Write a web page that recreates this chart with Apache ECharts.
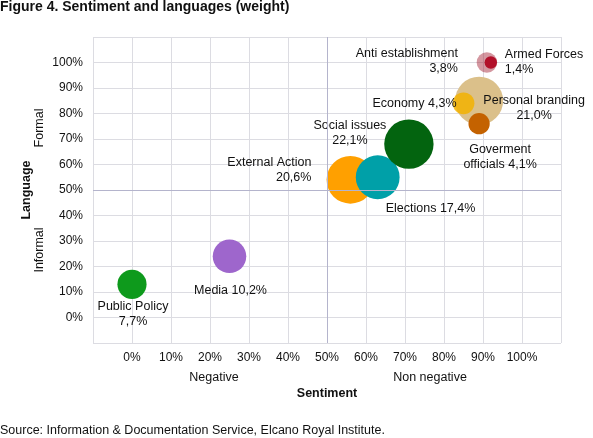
<!DOCTYPE html>
<html>
<head>
<meta charset="utf-8">
<script src="https://cdn.jsdelivr.net/npm/echarts@6/dist/echarts.min.js"></script>
<style>
html,body{margin:0;padding:0;background:#fff;}
#chart{width:593px;height:438px;}
</style>
</head>
<body>
<div id="chart"></div>
<script>
// ---- data ----
const categories = ['Public Policy', 'Media', 'External Action', 'Elections', 'Social issues',
  'Personal branding', 'Economy', 'Goverment\nofficials', 'Anti establishment', 'Armed Forces'];
const sentiment = [0, 25, 56, 63, 71, 89, 85, 89, 91, 92];   // % (x)
const language  = [13, 24, 54, 55, 68, 85, 84, 76, 100, 100]; // % (y)
const weight    = [7.7, 10.2, 20.6, 17.4, 22.1, 21.0, 4.3, 4.1, 3.8, 1.4]; // % (bubble size)
const xTicks = [0, 10, 20, 30, 40, 50, 60, 70, 80, 90, 100];
const yTicks = [0, 10, 20, 30, 40, 50, 60, 70, 80, 90, 100];

// ---- styles / layout ----
const colors = ['#0e9a1c', '#9e66cc', '#ffa000', '#00a0a8', '#03640f',
  '#dbc08a', 'rgba(242,177,0,0.85)', '#c46200', 'rgba(160,24,45,0.45)', '#b2102a'];
// label: [separator, align, dx, dy] relative to bubble centre
const labelLayout = [
  ['\n', 'center', 1, 30],
  [' ', 'center', 1, 34],
  ['\n', 'right', -39, -10],
  [' ', 'left', 8, 31],
  ['\n', 'center', -59, -11],
  ['\n', 'center', 55, 7],
  [' ', 'right', -7, 0],
  [' ', 'center', 21, 33],
  ['\n', 'right', -29, -1],
  ['\n', 'left', 14, 0]
];

const FONT = '"Liberation Sans", Arial, sans-serif';
const FS = 12.5;
const fmtPct = v => v.toFixed(1).replace('.', ',') + '%';

const seriesData = categories.map((c, i) => ({
  name: c,
  value: [sentiment[i], language[i], weight[i]],
  itemStyle: { color: colors[i], opacity: 1 },
  label: {
    show: true,
    position: ['50%', '50%'],
    align: labelLayout[i][1],
    verticalAlign: 'middle',
    offset: [labelLayout[i][2], labelLayout[i][3]],
    formatter: c + labelLayout[i][0] + fmtPct(weight[i]),
    fontFamily: FONT,
    fontSize: FS,
    lineHeight: 15,
    color: '#111'
  }
}));

const chart = echarts.init(document.getElementById('chart'), null, { renderer: 'canvas' });
chart.setOption({
  animation: false,
  backgroundColor: '#fff',
  textStyle: { fontFamily: FONT },
  title: [
    { text: 'Figure 4. Sentiment and languages (weight)', left: 0, top: 0, padding: 0,
      textStyle: { fontFamily: FONT, fontSize: 14, fontWeight: 'bold', color: '#111' } },
    { text: 'Source: Information & Documentation Service, Elcano Royal Institute.', left: 0, top: 424, padding: 0,
      textStyle: { fontFamily: FONT, fontSize: FS, fontWeight: 'normal', color: '#111' } }
  ],
  grid: { left: 93, top: 37, right: 32, bottom: 95 },
  xAxis: {
    type: 'value', min: -10, max: 110, interval: 10,
    name: 'Sentiment', nameLocation: 'middle', nameGap: 44,
    nameTextStyle: { fontFamily: FONT, fontSize: FS, fontWeight: 'bold', color: '#111' },
    axisLine: { show: false }, axisTick: { show: false },
    axisLabel: { margin: 9, fontFamily: FONT, fontSize: 12, color: '#111',
      formatter: v => xTicks.includes(v) ? v + '%' : '' },
    splitLine: { show: true, lineStyle: { color: '#dcdce2', width: 1 } }
  },
  yAxis: {
    type: 'value', min: -10, max: 110, interval: 10,
    name: 'Language', nameLocation: 'middle', nameGap: 60,
    nameTextStyle: { fontFamily: FONT, fontSize: FS, fontWeight: 'bold', color: '#111' },
    axisLine: { show: false }, axisTick: { show: false },
    axisLabel: { margin: 10, fontFamily: FONT, fontSize: 12, color: '#111',
      formatter: v => yTicks.includes(v) ? v + '%' : '' },
    splitLine: { show: true, lineStyle: { color: '#dcdce2', width: 1 } }
  },
  graphic: [
    { type: 'text', x: 214, y: 378, style: { text: 'Negative', font: FS + 'px ' + FONT, fill: '#111', align: 'center', verticalAlign: 'middle' } },
    { type: 'text', x: 430, y: 378, style: { text: 'Non negative', font: FS + 'px ' + FONT, fill: '#111', align: 'center', verticalAlign: 'middle' } },
    { type: 'text', x: 40, y: 128, rotation: Math.PI / 2, style: { text: 'Formal', font: FS + 'px ' + FONT, fill: '#111', align: 'center', verticalAlign: 'middle' } },
    { type: 'text', x: 40, y: 250, rotation: Math.PI / 2, style: { text: 'Informal', font: FS + 'px ' + FONT, fill: '#111', align: 'center', verticalAlign: 'middle' } }
  ],
  series: [{
    type: 'scatter',
    data: seriesData,
    symbolSize: v => 10.5 * Math.sqrt(v[2]),
    itemStyle: { borderWidth: 0, opacity: 1 },
    markLine: {
      silent: true, symbol: 'none', label: { show: false },
      lineStyle: { color: '#b4b4cc', width: 1, type: 'solid' },
      data: [{ xAxis: 50 }, { yAxis: 50 }]
    }
  }]
});
</script>
</body>
</html>
